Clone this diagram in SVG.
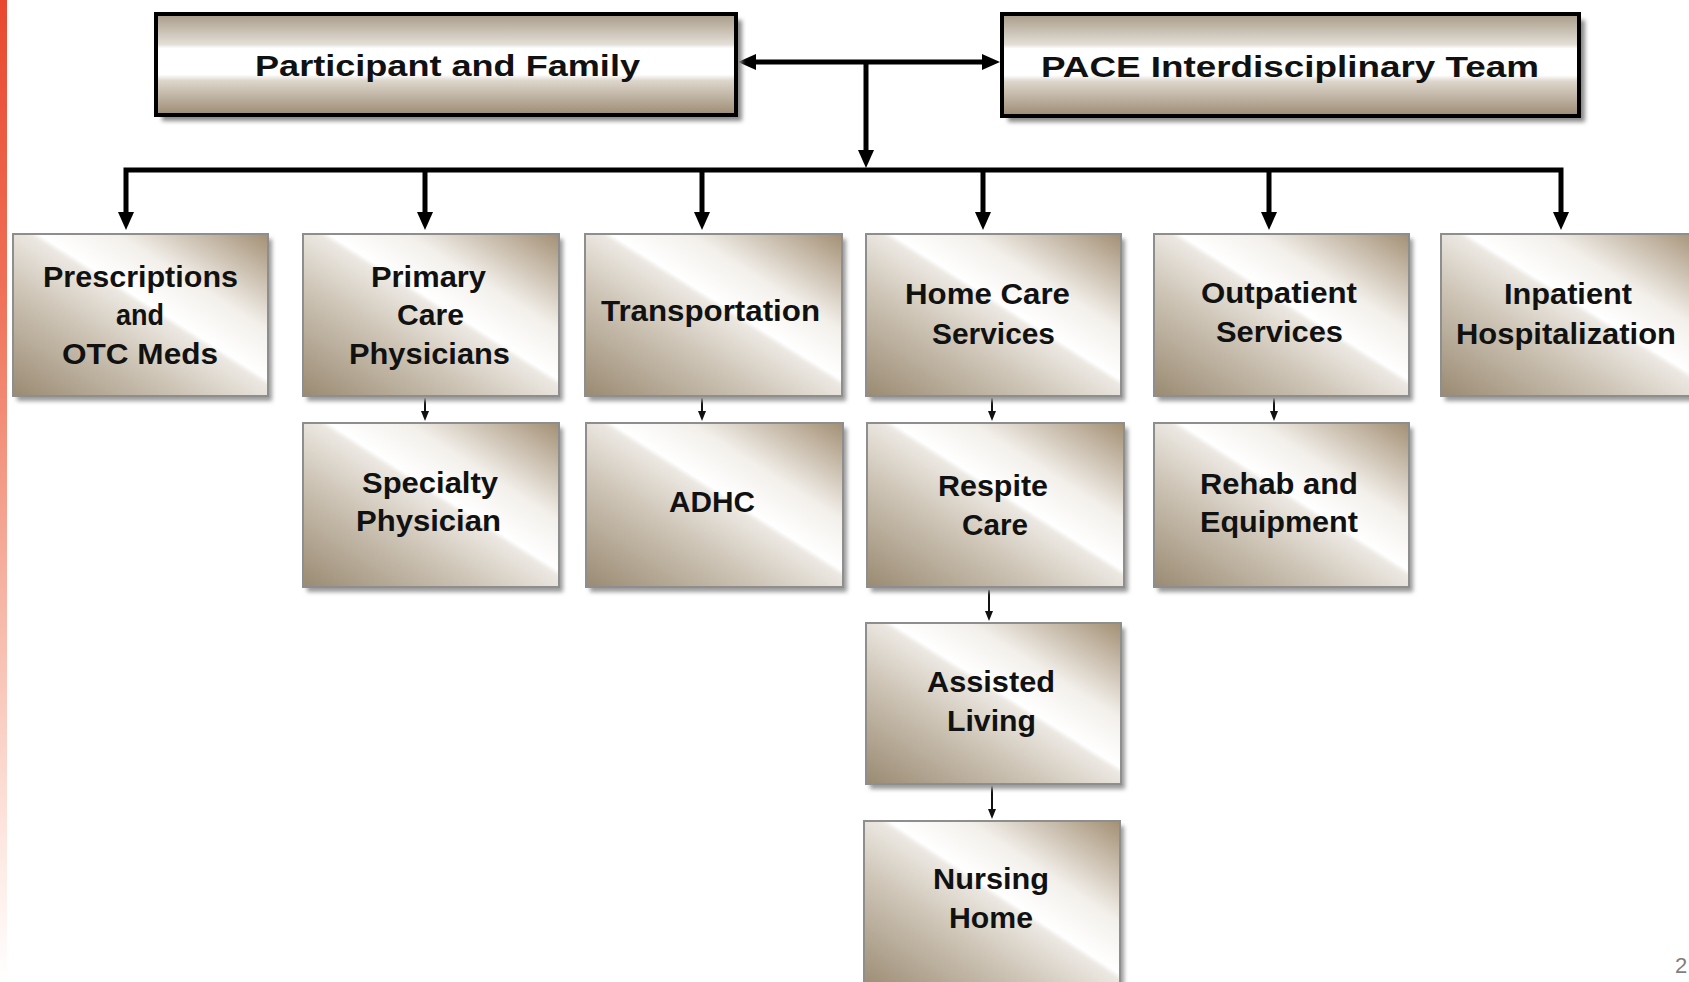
<svg xmlns="http://www.w3.org/2000/svg" width="1689" height="982" viewBox="0 0 1689 982">
<style>
.lbl{font-family:"Liberation Sans",Arial,sans-serif;font-weight:bold;font-size:29px;fill:#111;text-anchor:start}
.top{fill:url(#gTop);stroke:#000;stroke-width:4}
.box{fill:url(#gBox);stroke:#8e8e8e;stroke-width:2}
.shT{fill:#8a8a8a;filter:url(#blur)}
.shB{fill:#9a9a9a;filter:url(#blur)}
.main{stroke:#000;stroke-width:5;fill:none}
.small{stroke:#111;stroke-width:2;fill:none}
.pg{font-family:"Liberation Sans",Arial,sans-serif;font-size:22px;fill:#7f7f7f}
</style>
<defs>
<linearGradient id="gRed" x1="0" y1="0" x2="0" y2="1">
<stop offset="0" stop-color="#e8482f"/>
<stop offset="0.3" stop-color="#ef7158"/>
<stop offset="0.6" stop-color="#f6b3a2"/>
<stop offset="0.85" stop-color="#fde6df"/>
<stop offset="1" stop-color="#ffffff"/>
</linearGradient>
<linearGradient id="gTop" x1="0" y1="0" x2="0" y2="1">
<stop offset="0" stop-color="#a89b88"/>
<stop offset="0.3" stop-color="#e3ded6"/>
<stop offset="0.34" stop-color="#ffffff"/>
<stop offset="0.6" stop-color="#ffffff"/>
<stop offset="0.66" stop-color="#ddd6cc"/>
<stop offset="1" stop-color="#9d8b73"/>
</linearGradient>
<linearGradient id="gBox" x1="0" y1="1" x2="1" y2="0">
<stop offset="0" stop-color="#9a8a72"/>
<stop offset="0.35" stop-color="#cfc6b8"/>
<stop offset="0.53" stop-color="#ece8e2"/>
<stop offset="0.55" stop-color="#ffffff"/>
<stop offset="0.7" stop-color="#f3f0eb"/>
<stop offset="1" stop-color="#a38f74"/>
</linearGradient>
<filter id="blur" x="-10%" y="-10%" width="120%" height="120%">
<feGaussianBlur stdDeviation="2"/>
</filter>
<marker id="aBig" viewBox="0 0 18 16" markerWidth="18" markerHeight="16" refX="4" refY="8" orient="auto-start-reverse" markerUnits="userSpaceOnUse">
<path d="M0,0 L18,8 L0,16 z" fill="#000"/>
</marker>
<marker id="aSm" viewBox="0 0 10 8" markerWidth="10" markerHeight="8" refX="2" refY="4" orient="auto" markerUnits="userSpaceOnUse">
<path d="M0,0 L10,4 L0,8 z" fill="#111"/>
</marker>
</defs>

<rect x="0" y="0" width="1689" height="982" fill="#ffffff"/>
<rect x="0" y="0" width="7" height="982" fill="url(#gRed)"/>

<g id="connectors">
<line class="main" x1="752" y1="62" x2="986" y2="62" marker-start="url(#aBig)" marker-end="url(#aBig)"/>
<line class="main" x1="866" y1="62" x2="866" y2="154" marker-end="url(#aBig)"/>
<polyline class="main" points="126,216 126,170 1561,170 1561,216" marker-start="url(#aBig)" marker-end="url(#aBig)"/>
<line class="main" x1="425" y1="170" x2="425" y2="216" marker-end="url(#aBig)"/>
<line class="main" x1="702" y1="170" x2="702" y2="216" marker-end="url(#aBig)"/>
<line class="main" x1="983" y1="170" x2="983" y2="216" marker-end="url(#aBig)"/>
<line class="main" x1="1269" y1="170" x2="1269" y2="216" marker-end="url(#aBig)"/>
<line class="small" x1="425" y1="398" x2="425" y2="413" marker-end="url(#aSm)"/>
<line class="small" x1="702" y1="398" x2="702" y2="413" marker-end="url(#aSm)"/>
<line class="small" x1="992" y1="398" x2="992" y2="413" marker-end="url(#aSm)"/>
<line class="small" x1="1274" y1="398" x2="1274" y2="413" marker-end="url(#aSm)"/>
<line class="small" x1="989" y1="590" x2="989" y2="613" marker-end="url(#aSm)"/>
<line class="small" x1="992" y1="786" x2="992" y2="811" marker-end="url(#aSm)"/>
</g>

<g id="participant">
<rect class="shT" x="162" y="20" width="580" height="101"/>
<rect class="top" x="156" y="14" width="580" height="101"/>
<text class="lbl" x="255" y="76" textLength="385" lengthAdjust="spacingAndGlyphs">Participant and Family</text>
</g>
<g id="pace">
<rect class="shT" x="1008" y="20" width="577" height="102"/>
<rect class="top" x="1002" y="14" width="577" height="102"/>
<text class="lbl" x="1041" y="77" textLength="498" lengthAdjust="spacingAndGlyphs">PACE Interdisciplinary Team</text>
</g>

<g id="prescriptions">
<rect class="shB" x="17" y="239" width="255" height="162"/>
<rect class="box" x="13" y="234" width="255" height="162"/>
<text class="lbl" x="43" y="287" textLength="195" lengthAdjust="spacingAndGlyphs">Prescriptions</text>
<text class="lbl" x="116" y="325" textLength="48" lengthAdjust="spacingAndGlyphs">and</text>
<text class="lbl" x="62" y="364" textLength="156" lengthAdjust="spacingAndGlyphs">OTC Meds</text>
</g>
<g id="primary">
<rect class="shB" x="307" y="239" width="256" height="162"/>
<rect class="box" x="303" y="234" width="256" height="162"/>
<text class="lbl" x="371" y="287" textLength="115" lengthAdjust="spacingAndGlyphs">Primary</text>
<text class="lbl" x="397" y="325" textLength="67" lengthAdjust="spacingAndGlyphs">Care</text>
<text class="lbl" x="349" y="364" textLength="161" lengthAdjust="spacingAndGlyphs">Physicians</text>
</g>
<g id="transportation">
<rect class="shB" x="589" y="239" width="257" height="162"/>
<rect class="box" x="585" y="234" width="257" height="162"/>
<text class="lbl" x="601" y="321" textLength="219" lengthAdjust="spacingAndGlyphs">Transportation</text>
</g>
<g id="homecare">
<rect class="shB" x="870" y="239" width="255" height="162"/>
<rect class="box" x="866" y="234" width="255" height="162"/>
<text class="lbl" x="905" y="304" textLength="165" lengthAdjust="spacingAndGlyphs">Home Care</text>
<text class="lbl" x="932" y="344" textLength="123" lengthAdjust="spacingAndGlyphs">Services</text>
</g>
<g id="outpatient">
<rect class="shB" x="1158" y="239" width="255" height="162"/>
<rect class="box" x="1154" y="234" width="255" height="162"/>
<text class="lbl" x="1201" y="303" textLength="156" lengthAdjust="spacingAndGlyphs">Outpatient</text>
<text class="lbl" x="1216" y="342" textLength="127" lengthAdjust="spacingAndGlyphs">Services</text>
</g>
<g id="inpatient">
<rect class="shB" x="1445" y="239" width="260" height="162"/>
<rect class="box" x="1441" y="234" width="260" height="162"/>
<text class="lbl" x="1504" y="304" textLength="128" lengthAdjust="spacingAndGlyphs">Inpatient</text>
<text class="lbl" x="1456" y="344" textLength="220" lengthAdjust="spacingAndGlyphs">Hospitalization</text>
</g>

<g id="specialty">
<rect class="shB" x="307" y="428" width="256" height="164"/>
<rect class="box" x="303" y="423" width="256" height="164"/>
<text class="lbl" x="362" y="493" textLength="136" lengthAdjust="spacingAndGlyphs">Specialty</text>
<text class="lbl" x="356" y="531" textLength="145" lengthAdjust="spacingAndGlyphs">Physician</text>
</g>
<g id="adhc">
<rect class="shB" x="590" y="428" width="257" height="164"/>
<rect class="box" x="586" y="423" width="257" height="164"/>
<text class="lbl" x="669" y="512" textLength="86" lengthAdjust="spacingAndGlyphs">ADHC</text>
</g>
<g id="respite">
<rect class="shB" x="871" y="428" width="257" height="164"/>
<rect class="box" x="867" y="423" width="257" height="164"/>
<text class="lbl" x="938" y="496" textLength="110" lengthAdjust="spacingAndGlyphs">Respite</text>
<text class="lbl" x="962" y="535" textLength="66" lengthAdjust="spacingAndGlyphs">Care</text>
</g>
<g id="rehab">
<rect class="shB" x="1158" y="428" width="255" height="164"/>
<rect class="box" x="1154" y="423" width="255" height="164"/>
<text class="lbl" x="1200" y="494" textLength="158" lengthAdjust="spacingAndGlyphs">Rehab and</text>
<text class="lbl" x="1200" y="532" textLength="158" lengthAdjust="spacingAndGlyphs">Equipment</text>
</g>

<g id="assisted">
<rect class="shB" x="870" y="628" width="255" height="161"/>
<rect class="box" x="866" y="623" width="255" height="161"/>
<text class="lbl" x="927" y="692" textLength="128" lengthAdjust="spacingAndGlyphs">Assisted</text>
<text class="lbl" x="947" y="731" textLength="89" lengthAdjust="spacingAndGlyphs">Living</text>
</g>
<g id="nursing">
<rect class="shB" x="868" y="826" width="256" height="170"/>
<rect class="box" x="864" y="821" width="256" height="170"/>
<text class="lbl" x="933" y="889" textLength="116" lengthAdjust="spacingAndGlyphs">Nursing</text>
<text class="lbl" x="949" y="928" textLength="84" lengthAdjust="spacingAndGlyphs">Home</text>
</g>

<text class="pg" x="1675" y="973">2</text>
</svg>
